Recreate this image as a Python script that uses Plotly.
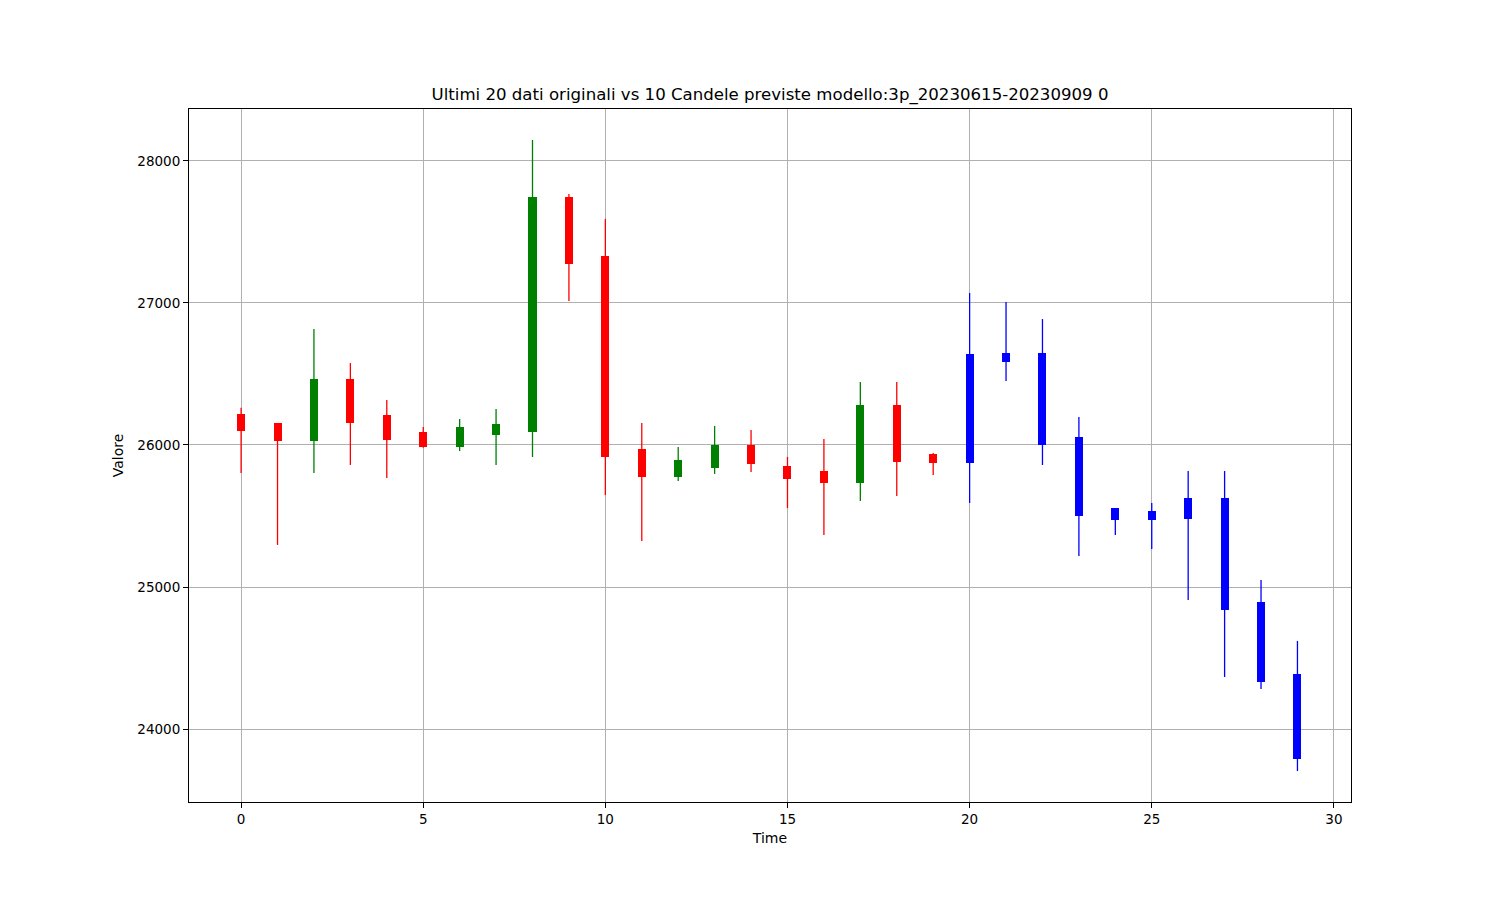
import plotly.graph_objects as go

# Data
idx = list(range(30))
open_ = [26220, 26155, 26028, 26465, 26211, 26092, 25986, 26070, 26094, 27746,
         27331, 25972, 25775, 25838, 26000, 25852, 25817, 25732, 26282, 25937,
         25873, 26648, 26648, 26056, 25556, 25535, 25627, 25627, 24894, 24387]
close = [26100, 26028, 26465, 26155, 26037, 25986, 26127, 26148, 27746, 27277,
         25915, 25775, 25894, 26000, 25866, 25761, 25732, 26282, 25880, 25873,
         26641, 26585, 26000, 25500, 25472, 25472, 25479, 24838, 24331, 23791]
high = [26263, 26155, 26817, 26577, 26317, 26127, 26183, 26254, 28148, 27768,
        27592, 26155, 25986, 26134, 26106, 25916, 26042, 26444, 26444, 25944,
        27070, 27007, 26887, 26197, 25556, 25592, 25817, 25817, 25049, 24620]
low = [25803, 25296, 25803, 25859, 25768, 25980, 25958, 25859, 25915, 27014,
       25648, 25324, 25746, 25796, 25810, 25556, 25366, 25606, 25641, 25789,
       25592, 26451, 25859, 25218, 25366, 25268, 24908, 24366, 24282, 23704]
n_original = 20
title_text = "Ultimi 20 dati originali vs 10 Candele previste modello:3p_20230615-20230909 0"
x_ticks = [0, 5, 10, 15, 20, 25, 30]
y_ticks = [24000, 25000, 26000, 27000, 28000]


def color_of(i):
    if i >= n_original:
        return "blue"
    return "green" if close[i] >= open_[i] else "red"


colors = [color_of(i) for i in idx]

fig = go.Figure()

# wicks, grouped by colour
for col in ["red", "green", "blue"]:
    xs, ys = [], []
    for i in idx:
        if colors[i] == col:
            xs += [i, i, None]
            ys += [low[i], high[i], None]
    fig.add_trace(go.Scatter(x=xs, y=ys, mode="lines",
                             line=dict(color=col, width=1.3),
                             hoverinfo="skip", showlegend=False))

# bodies
fig.add_trace(go.Bar(
    x=idx,
    y=[abs(c - o) for o, c in zip(open_, close)],
    base=[min(o, c) for o, c in zip(open_, close)],
    width=0.22,
    marker=dict(color=colors, line=dict(width=0)),
    showlegend=False,
))

fig.update_layout(
    width=1500, height=900,
    margin=dict(l=181, r=157, t=101, b=106),
    paper_bgcolor="white", plot_bgcolor="white",
    font=dict(family="DejaVu Sans", size=14, color="black"),
    title=dict(text=title_text, x=0.5, xref="paper", xanchor="center",
               y=1 - 86 / 900, yref="container", yanchor="middle",
               font=dict(size=16.6, color="black")),
    bargap=0,
)

fig.update_xaxes(
    range=[-1.43, 30.47], tickmode="array", tickvals=x_ticks,
    showgrid=True, gridcolor="#b0b0b0", gridwidth=1, zeroline=False,
    showline=True, mirror=True, linecolor="black", linewidth=1,
    ticks="outside", ticklen=5, tickcolor="black",
    tickfont=dict(size=13.5),
    title=dict(text="Time", font=dict(size=14), standoff=6),
)
fig.update_yaxes(
    range=[23486, 28366], tickmode="array", tickvals=y_ticks,
    showgrid=True, gridcolor="#b0b0b0", gridwidth=1, zeroline=False,
    showline=True, mirror=True, linecolor="black", linewidth=1,
    ticks="outside", ticklen=5, tickcolor="black",
    tickfont=dict(size=13.5), tickformat="d",
    title=dict(text="Valore", font=dict(size=14), standoff=10),
)

fig.write_html("out.html")
